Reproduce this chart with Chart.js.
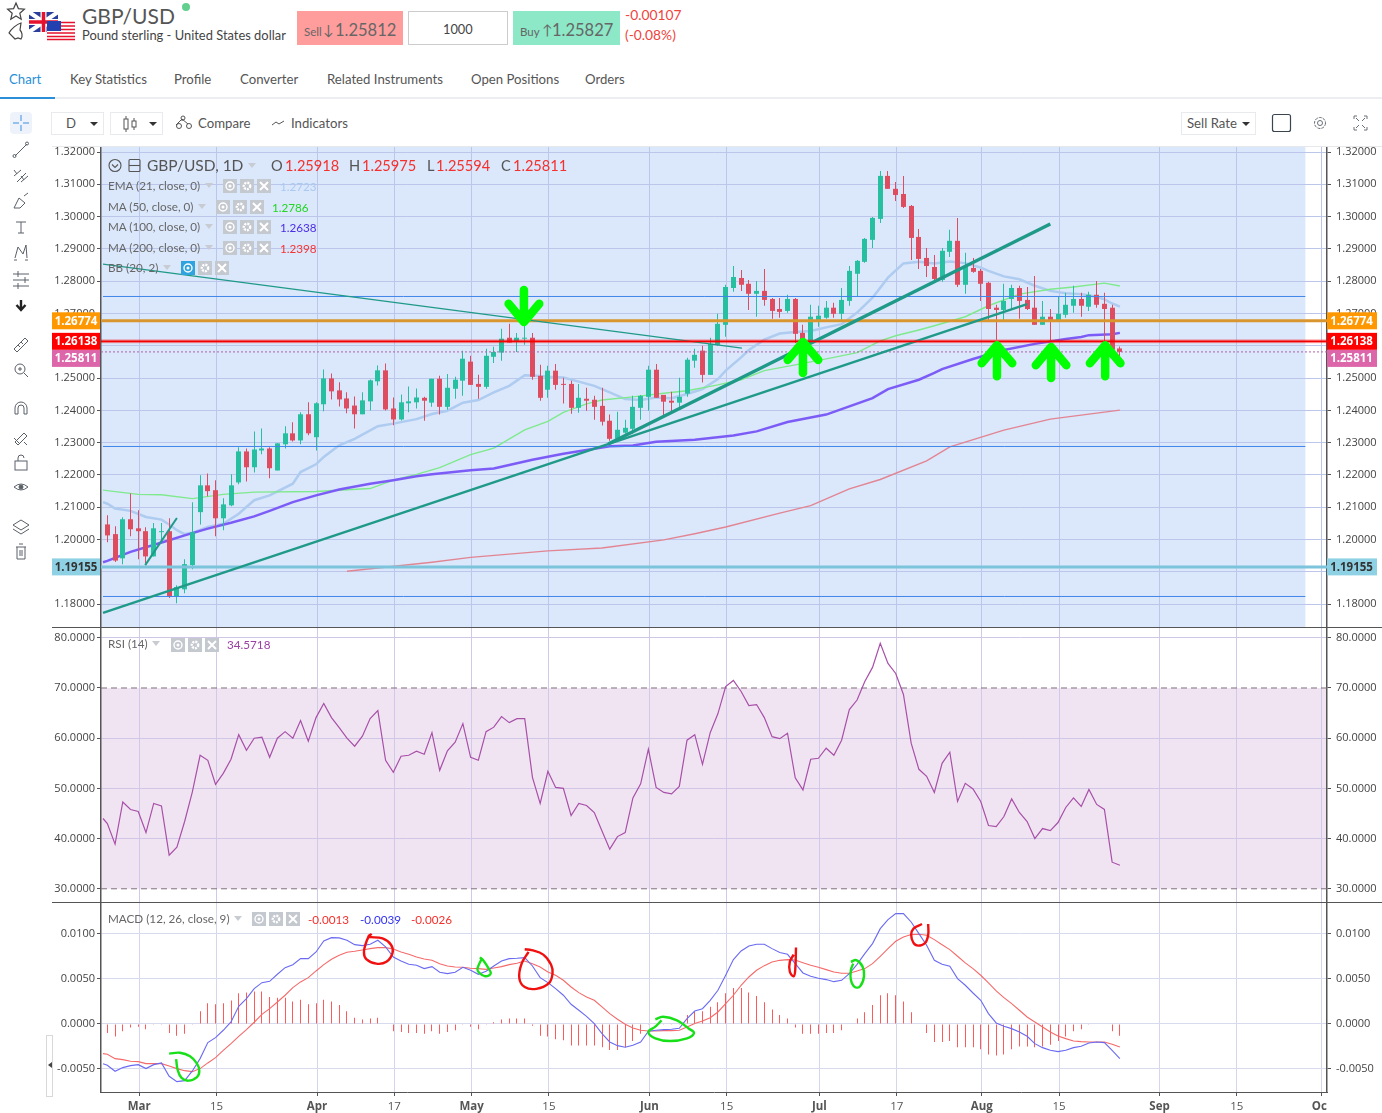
<!DOCTYPE html>
<html>
<head>
<meta charset="utf-8">
<title>GBP/USD</title>
<script src="https://cdn.jsdelivr.net/npm/chart.js@4"></script>
<style>
  html, body { margin: 0; padding: 0; background: #fff; overflow: hidden; }
  body { width: 1382px; height: 1113px; position: relative; font-family: Lato, sans-serif; color: #555; }
  .t { position: absolute; white-space: nowrap; transform: translateY(-50%); line-height: 1; }
  .box { position: absolute; box-sizing: border-box; }
  canvas { position: absolute; left: 52px; }
  svg { position: absolute; overflow: visible; }
  .ic { position: absolute; width: 14px; height: 14px; background: #c4c8cf; }
  .ic.on { background: #2ea3e0; }
</style>
</head>
<body>

<!-- header -->
<svg style="left:0;top:0" width="80" height="45">
  <path d="M16 3l2.4 5.6 6 .6-4.6 4 1.4 6-5.2-3.2-5.2 3.2 1.4-6-4.6-4 6-.6z" fill="none" stroke="#444" stroke-width="1.2"/>
  <path d="M21 23c-4 1-10 6-12 10l6 6 3-1 3 1c2-3 1-7-1-9z" fill="none" stroke="#444" stroke-width="1.2"/>
  <rect x="29" y="12" width="29" height="20" fill="#2a3f9b"/>
  <path d="M29 12l29 20M58 12L29 32" stroke="#fff" stroke-width="4"/>
  <path d="M43.5 12v20M29 22h29" stroke="#fff" stroke-width="6"/>
  <path d="M43.5 12v20M29 22h29" stroke="#e8112d" stroke-width="3.5"/>
  <rect x="47" y="21" width="28" height="19" fill="#fff"/>
  <path d="M47 22.5h28M47 26h28M47 29.5h28M47 33h28M47 36.5h28M47 39.5h28" stroke="#e8112d" stroke-width="1.7"/>
  <rect x="47" y="21" width="14" height="10" fill="#2340b0"/>
</svg>
<div class="t" style="left:82px;top:15px;font-size:21px;color:#555">GBP/USD</div>
<div class="box" style="left:182px;top:3px;width:8px;height:8px;border-radius:50%;background:#62cf8e"></div>
<div class="t" style="left:82px;top:35px;font-size:12.9px;color:#444">Pound sterling - United States dollar</div>

<div class="box" style="left:297px;top:11px;width:106px;height:34px;background:#ff9d9d"></div>
<div class="t" style="left:304px;top:32px;font-size:11.5px;color:#666">Sell</div>
<div class="t" style="left:323px;top:30px;font-size:14px;color:#666">↓</div>
<div class="t" style="left:335px;top:30px;font-size:16.5px;color:#666">1.25812</div>
<div class="box" style="left:408px;top:11px;width:100px;height:34px;border:1px solid #ccc"></div>
<div class="t" style="left:443px;top:29px;font-size:12.8px;color:#444">1000</div>
<div class="box" style="left:513px;top:11px;width:107px;height:34px;background:#8ce8c6"></div>
<div class="t" style="left:520px;top:32px;font-size:11.5px;color:#666">Buy</div>
<div class="t" style="left:542px;top:30px;font-size:14px;color:#666">↑</div>
<div class="t" style="left:552px;top:30px;font-size:16.5px;color:#666">1.25827</div>
<div class="t" style="left:625px;top:15px;font-size:13.8px;color:#f0433c">-0.00107</div>
<div class="t" style="left:625px;top:35px;font-size:13.8px;color:#f0433c">(-0.08%)</div>

<!-- tabs -->
<div class="box" style="left:0;top:97px;width:1382px;height:2px;background:#eceef1"></div>
<div class="box" style="left:0;top:97px;width:55px;height:2px;background:#2a8fd6"></div>
<div class="t" style="left:9px;top:80px;font-size:13.2px;color:#2a8fd6">Chart</div>
<div class="t" style="left:70px;top:80px;font-size:13.2px">Key Statistics</div>
<div class="t" style="left:174px;top:80px;font-size:13.2px">Profile</div>
<div class="t" style="left:240px;top:80px;font-size:13.2px">Converter</div>
<div class="t" style="left:327px;top:80px;font-size:13.2px">Related Instruments</div>
<div class="t" style="left:471px;top:80px;font-size:13.2px">Open Positions</div>
<div class="t" style="left:585px;top:80px;font-size:13.2px">Orders</div>

<!-- toolbar -->
<div class="box" style="left:10px;top:112px;width:22px;height:22px;border-radius:4px;background:#eef3fb"></div>
<svg style="left:0;top:100px" width="50" height="470" fill="none" stroke="#5a6068" stroke-width="1">
  <path d="M21 15v6M21 25v6M13 23h6M23 23h6" stroke="#3b8fe0"/>
  <path d="M15 56l12-12"/><circle cx="14.5" cy="56" r="1.5"/><circle cx="27" cy="43.5" r="1.5"/>
  <path d="M14 76l7-6M17 82l9-9M21 82l7-6M14 70l3 4M21 76l3 4"/>
  <path d="M14 108l5-10 6 5-5 5zM24 96l4-3"/>
  <path d="M16 122h10M21 122v11M18 133h6"/>
  <path d="M15 158l3-11 5 7 3-9 1 13M14 160h3M25 160h3"/>
  <path d="M13 174h16M13 180h16M13 186h16M18 171v6M25 177v6M18 183v6"/>
  <path d="M21 200v9M16.5 205l4.5 5 4.5-5" stroke="#222" stroke-width="2.4"/>
  <path d="M14 249l11-11 3 3-11 11zM18 245l2 2M21 242l2 2"/>
  <circle cx="20" cy="269" r="5"/><path d="M24 273l4 4M18 269h4M20 267v4"/>
  <path d="M15 314v-6a6 6 0 0 1 12 0v6h-3v-6a3 3 0 0 0-6 0v6z"/>
  <path d="M15 342l9-9 3 3-9 9zM14 338l5 5M24 342l3 3"/>
  <rect x="15" y="361" width="12" height="9"/><path d="M18 361v-3a3 3 0 0 1 6 0"/>
  <path d="M14 387q7-6 14 0q-7 6-14 0z"/><circle cx="21" cy="387" r="2" fill="#5a6068"/>
  <path d="M21 420l8 5-8 5-8-5zM13 429l8 5 8-5"/>
  <path d="M16 447h10M17 447v12h8v-12M19 444h4M20 450v6M22 450v6"/>
</svg>
<div class="box" style="left:51px;top:112px;width:53px;height:23px;border:1px solid #e8eaed"></div>
<div class="t" style="left:66px;top:124px;font-size:13.2px">D</div>
<svg style="left:0;top:0" width="170" height="140" fill="#333"><path d="M90 122h8l-4 4zM149 122h8l-4 4z"/></svg>
<div class="box" style="left:110px;top:112px;width:53px;height:23px;border:1px solid #e8eaed"></div>
<svg style="left:120px;top:112px" width="130" height="23" fill="none" stroke="#555" stroke-width="1">
  <path d="M6 4v3M6 17v3M14 6v3M14 15v3M56 13l6-6 6 5M62 7v2"/>
  <rect x="4" y="7" width="4" height="10"/><rect x="12" y="9" width="4" height="6"/>
  <circle cx="59" cy="14" r="2.5"/><circle cx="69" cy="14" r="2.5"/><circle cx="63" cy="6" r="2"/>
  <path d="M152 13l4-3 3 2 5-3"/>
</svg>
<div class="t" style="left:198px;top:124px;font-size:13.2px">Compare</div>
<div class="t" style="left:291px;top:124px;font-size:13.2px">Indicators</div>
<div class="box" style="left:1181px;top:112px;width:75px;height:23px;border:1px solid #e8eaed"></div>
<div class="t" style="left:1187px;top:124px;font-size:13.2px">Sell Rate</div>
<svg style="left:1180px;top:110px" width="200" height="30" fill="none" stroke="#6a7078" stroke-width="1">
  <path d="M62 12h8l-4 4z" fill="#333" stroke="none"/>
  <rect x="92.5" y="4.5" width="18" height="17" rx="2" stroke="#3a4550" stroke-width="1.2"/>
  <circle cx="140" cy="13" r="2.5"/><circle cx="140" cy="13" r="5.5" stroke-dasharray="3 1"/>
  <path d="M174 9v-3h3M184 6h3v3M174 17v3h3M187 17v3h-3M176 8l3 3M185 8l-3 3M176 18l3-3M185 18l-3-3"/>
</svg>
<div class="box" style="left:46px;top:1035px;width:7px;height:62px;border:1px solid #d8d8d8;background:#fff"></div>
<svg style="left:46px;top:1060px" width="8" height="10" fill="#444"><path d="M2 5l4-3v6z"/></svg>

<canvas id="priceChart" width="1330" height="481" style="top:147px"></canvas>
<canvas id="rsiChart" width="1330" height="275" style="top:628px"></canvas>
<canvas id="macdChart" width="1330" height="210" style="top:903px"></canvas>

<div id="overlay"></div>

<script>
// x axis
const tickBars = [4, 14, 27, 37, 47, 57, 70, 80, 92, 102, 113, 123, 136, 146, 157];
const tickLabels = ["Mar", "15", "Apr", "17", "May", "15", "Jun", "15", "Jul", "17", "Aug", "15", "Sep", "15", "Oct"];
const monthNames = ["Mar", "Apr", "May", "Jun", "Jul", "Aug", "Sep", "Oct"];

// candles, one value per daily bar
const opens = [1.2047,1.2017,1.1942,1.2063,1.2035,1.2026,1.1948,1.2023,1.2026,1.1825,1.1846,1.1921,1.2085,1.2168,1.2153,1.2066,1.2106,1.2177,1.2273,1.2224,1.2276,1.2282,1.2214,1.2295,1.2329,1.2307,1.2388,1.2317,1.2419,1.2499,1.2462,1.2437,1.2415,1.2388,1.2428,1.2490,1.2524,1.2406,1.2372,1.2422,1.2425,1.2439,1.2424,1.2498,1.2411,1.2467,1.2492,1.2551,1.2482,1.2473,1.2566,1.2579,1.2625,1.2612,1.2622,1.2625,1.2507,1.2464,1.2523,1.2482,1.2482,1.2408,1.2436,1.2433,1.2414,1.2368,1.2312,1.2331,1.2343,1.2408,1.2442,1.2526,1.2448,1.2430,1.2424,1.2452,1.2554,1.2585,1.2510,1.2603,1.2665,1.2779,1.2810,1.2792,1.2761,1.2770,1.2745,1.2714,1.2708,1.2745,1.2640,1.2609,1.2677,1.2687,1.2718,1.2699,1.2739,1.2823,1.2860,1.2928,1.2993,1.3126,1.3086,1.3070,1.3033,1.2937,1.2872,1.2844,1.2804,1.2891,1.2925,1.2789,1.2841,1.2832,1.2795,1.2718,1.2711,1.2745,1.2779,1.2742,1.2718,1.2665,1.2690,1.2677,1.2696,1.2724,1.2745,1.2721,1.2758,1.2730,1.2718,1.25918];
const highs = [1.2075,1.2041,1.2069,1.2143,1.2091,1.2038,1.2051,1.2051,1.2066,1.1859,1.1939,1.2116,1.2199,1.2205,1.2184,1.2128,1.2202,1.2286,1.2282,1.2335,1.2344,1.2286,1.2298,1.2351,1.2363,1.2394,1.2425,1.2425,1.2527,1.2514,1.2487,1.2456,1.2443,1.2456,1.2496,1.2539,1.2545,1.2440,1.2449,1.2474,1.2468,1.2442,1.2498,1.2507,1.2513,1.2504,1.2585,1.2569,1.2510,1.2591,1.2597,1.2653,1.2668,1.2640,1.2677,1.2640,1.2541,1.2538,1.2544,1.2501,1.2492,1.2482,1.2470,1.2445,1.2470,1.2387,1.2396,1.2371,1.2445,1.2448,1.2538,1.2544,1.2448,1.2458,1.2501,1.2563,1.2591,1.2600,1.2625,1.2699,1.2789,1.2847,1.2835,1.2804,1.2801,1.2838,1.2748,1.2748,1.2758,1.2748,1.2665,1.2727,1.2724,1.2739,1.2733,1.2779,1.2847,1.2866,1.2934,1.2999,1.3141,1.3141,1.3107,1.3126,1.3036,1.2962,1.2903,1.2881,1.2903,1.2959,1.2996,1.2888,1.2872,1.2838,1.2798,1.2727,1.2792,1.2789,1.2786,1.2782,1.2816,1.2739,1.2714,1.2752,1.2764,1.2786,1.2764,1.2767,1.2801,1.2764,1.2727,1.25975];
const lows = [1.1992,1.1931,1.1924,1.2010,1.1939,1.1927,1.1948,1.1992,1.1819,1.1803,1.1834,1.1908,1.2047,1.2134,1.2010,1.2029,1.2103,1.2171,1.2180,1.2208,1.2264,1.2190,1.2214,1.2282,1.2304,1.2295,1.2323,1.2276,1.2397,1.2434,1.2412,1.2391,1.2344,1.2388,1.2400,1.2477,1.2400,1.2354,1.2369,1.2394,1.2406,1.2368,1.2411,1.2387,1.2402,1.2436,1.2445,1.2479,1.2436,1.2467,1.2547,1.2554,1.2610,1.2581,1.2603,1.2495,1.2430,1.2439,1.2464,1.2421,1.2390,1.2393,1.2399,1.2371,1.2353,1.2306,1.2309,1.2328,1.2328,1.2371,1.2399,1.2439,1.2377,1.2393,1.2402,1.2442,1.2532,1.2486,1.2510,1.2600,1.2628,1.2767,1.2770,1.2711,1.2690,1.2724,1.2684,1.2687,1.2702,1.2609,1.2585,1.2600,1.2659,1.2684,1.2687,1.2680,1.2724,1.2752,1.2857,1.2903,1.2980,1.3086,1.3048,1.3027,1.2866,1.2838,1.2813,1.2798,1.2798,1.2875,1.2782,1.2761,1.2826,1.2739,1.2680,1.2619,1.2680,1.2714,1.2684,1.2711,1.2665,1.2665,1.2614,1.2677,1.2687,1.2702,1.2690,1.2708,1.2718,1.2615,1.2585,1.25594];
const closes = [1.2013,1.1935,1.2063,1.2032,1.2026,1.1948,1.2035,1.2026,1.1825,1.1853,1.1924,1.2023,1.2168,1.2150,1.2066,1.2109,1.2168,1.2273,1.2224,1.2279,1.2282,1.2221,1.2298,1.2329,1.2307,1.2388,1.2329,1.2422,1.2499,1.2459,1.2434,1.2406,1.2388,1.2431,1.2493,1.2524,1.2403,1.2372,1.2425,1.2428,1.2440,1.2430,1.2498,1.2411,1.2470,1.2495,1.2560,1.2479,1.2473,1.2569,1.2581,1.2622,1.2610,1.2625,1.2625,1.2504,1.2439,1.2523,1.2479,1.2479,1.2408,1.2439,1.2430,1.2411,1.2365,1.2312,1.2340,1.2346,1.2411,1.2445,1.2526,1.2439,1.2427,1.2424,1.2442,1.2557,1.2572,1.2510,1.2606,1.2668,1.2782,1.2813,1.2789,1.2761,1.2770,1.2742,1.2708,1.2705,1.2745,1.2637,1.2609,1.2690,1.2693,1.2718,1.2699,1.2742,1.2832,1.2863,1.2931,1.2996,1.3126,1.3086,1.3067,1.3030,1.2934,1.2869,1.2847,1.2807,1.2894,1.2925,1.2789,1.2847,1.2829,1.2792,1.2714,1.2711,1.2739,1.2779,1.2739,1.2714,1.2665,1.2690,1.2677,1.2699,1.2727,1.2745,1.2724,1.2758,1.2727,1.2714,1.2588,1.25811];

// moving averages, read at the bars where the line bends
const emaBars = [-0.56,0,1,3,5,7,8,9,10,11,13,15,17,19,21,24,25,27,28,30,32,35,37,40,42,44,46,48,50,52,54,55,57,59,61,63,65,67,69,71,73,75,77,79,80,82,83,85,87,89,91,93,95,97,99,101,103,105,107,109,111,113,114,116,118,120,122,124,126,128,129,130,131];
const emaValues = [1.2116,1.2111,1.2096,1.2089,1.2070,1.2062,1.2047,1.2029,1.2017,1.2021,1.2039,1.2049,1.2080,1.2122,1.2137,1.2173,1.2209,1.2233,1.2256,1.2292,1.2312,1.2351,1.2359,1.2373,1.2389,1.2399,1.2424,1.2432,1.2456,1.2476,1.2509,1.2508,1.2504,1.2502,1.2489,1.2476,1.2456,1.2435,1.2432,1.2440,1.2438,1.2451,1.2466,1.2497,1.2523,1.2564,1.2587,1.2619,1.2638,1.2643,1.2646,1.2657,1.2667,1.2703,1.2749,1.2811,1.2855,1.2860,1.2855,1.2861,1.2856,1.2842,1.2832,1.2815,1.2806,1.2786,1.2770,1.2763,1.2760,1.2752,1.2744,1.2731,1.2721];
const ma50Bars = [-0.56,4,7,11,15,19,27,34,37,40,42,43,47,50,54,57,59,62,64,68,72,75,79,82,85,89,94,97,100,102,105,107,111,114,118,122,125,129,131];
const ma50Values = [1.2153,1.2140,1.2139,1.2127,1.2140,1.2147,1.2149,1.2158,1.2184,1.2202,1.2216,1.2223,1.2263,1.2283,1.2340,1.2366,1.2394,1.2420,1.2432,1.2442,1.2453,1.2461,1.2479,1.2495,1.2523,1.2541,1.2564,1.2579,1.2615,1.2631,1.2649,1.2662,1.2690,1.2724,1.2760,1.2775,1.2782,1.2794,1.2785];
const ma100Bars = [-0.56,0,3,8,10,13,16,19,21,24,27,30,34,37,40,42,47,50,55,59,65,68,71,76,81,84,88,93,95,99,101,105,107,108,112,116,120,124,126,127,130,131];
const ma100Values = [1.1930,1.1934,1.1962,1.1998,1.2013,1.2034,1.2052,1.2072,1.2089,1.2116,1.2137,1.2155,1.2173,1.2184,1.2196,1.2202,1.2215,1.2220,1.2247,1.2266,1.2289,1.2291,1.2303,1.2309,1.2322,1.2335,1.2364,1.2387,1.2404,1.2438,1.2466,1.2495,1.2516,1.2528,1.2559,1.2587,1.2606,1.2621,1.2627,1.2633,1.2636,1.2640];
const ma200Bars = [31,42,47,57,64,72,76,80,87,91,96,100,106,109,116,122,131];
const ma200Values = [1.1902,1.1930,1.1945,1.1965,1.1974,1.1999,1.2018,1.2039,1.2082,1.2105,1.2157,1.2186,1.2244,1.2287,1.2339,1.2373,1.2401];

// drawn levels
const bluePrices = [1.27527, 1.22883, 1.18239];
const tagPrices = [1.26774, 1.26138, 1.25811, 1.19155];
const tagColors = ["#ff9800", "#ff0000", "#dd66aa", "#8ed1e4"];
const tagText = ["#fff", "#fff", "#fff", "#333"];
const tagShift = [0, 0, 6.5, 0];

// drawn trend lines as [bar, price] ends
const trendBars = [[-0.56, 119], [64.8, 122], [4.9, 9], [-0.56, 82.1]];
const trendPrices = [[1.1773, 1.2729], [1.2296, 1.2977], [1.1921, 1.2067], [1.2853, 1.2593]];
const trendWidths = [2.4, 3.4, 2, 1.3];

// hand drawn arrows
const upArrowBars = [90, 115.1, 122.1, 129.1];
const upArrowTips = [1.2612, 1.2602, 1.2596, 1.2602];
const downArrowBars = [53.9];
const downArrowTips = [1.2674];

// the indicator lines start a little left of the first candle
const leadBar = -0.56;
const rsiLead = 44.0;
const macdLead = -.00441;
const signalLead = -.0033;

// RSI
const rsiValues = [43.0,38.9,47.3,45.8,45.4,41.2,47.0,46.5,36.7,38.3,43.4,49.3,56.6,55.6,50.8,53.0,55.8,60.7,57.6,60.0,60.2,56.2,60.0,61.3,60.0,63.5,59.4,64.1,66.9,64.1,62.1,60.0,58.4,60.4,63.9,65.5,55.6,53.2,56.4,56.6,57.4,56.8,61.1,53.6,57.5,59.2,62.9,56.2,55.6,61.3,62.2,64.3,63.1,63.9,63.9,52.2,47.0,53.4,50.2,50.0,44.6,47.0,46.6,45.2,41.5,37.9,40.4,41.2,48.1,50.9,57.8,50.2,49.2,48.9,50.4,59.6,60.7,54.8,61.1,64.9,70.3,71.5,69.3,66.5,66.7,64.1,60.3,59.9,61.0,52.1,49.7,55.8,56.0,58.0,56.6,59.6,65.7,67.6,71.3,74.1,78.9,74.9,72.9,68.7,59.0,53.8,52.4,49.2,55.0,57.2,47.4,51.0,49.9,47.4,42.6,42.4,44.4,47.9,45.2,43.4,40.0,42.0,41.6,43.2,46.2,48.1,46.4,49.8,46.8,45.8,35.3,34.7];

// MACD
const macdValues = [-.00459,-.00526,-.00485,-.00463,-.00452,-.00496,-.00452,-.00433,-.00581,-.00641,-.0063,-.00522,-.00385,-.00207,-.00152,-.0007,.00022,.00196,.00281,.00393,.00459,.00474,.00552,.00626,.00659,.00726,.00726,.008,.00922,.00959,.00956,.0093,.00881,.0087,.00885,.0093,.00856,.00744,.007,.00663,.00652,.00615,.00637,.00574,.00559,.00574,.0063,.00596,.00552,.00585,.00644,.007,.00726,.0073,.00737,.00644,.00515,.00459,.00393,.00319,.00219,.00152,.00085,.00004,-.00107,-.002,-.00241,-.00259,-.00237,-.002,-.00081,-.0007,-.00063,-.00059,-.00048,.00059,.00144,.0017,.00263,.00374,.00541,.00715,.00811,.00867,.00885,.00885,.00837,.00793,.00774,.0067,.00567,.0053,.00507,.00493,.0047,.00485,.00559,.00663,.00781,.00893,.01059,.01159,.01226,.01226,.01133,.01004,.00874,.00707,.00663,.00641,.00504,.0043,.00344,.00263,.00115,.00011,-.00026,-.00052,-.00089,-.00137,-.00219,-.00263,-.00293,-.00307,-.00293,-.00263,-.00248,-.00211,-.002,-.00207,-.00293,-.00385];
const signalValues = [-.00337,-.00385,-.00396,-.00415,-.00419,-.00441,-.00441,-.00441,-.00467,-.00496,-.00519,-.0053,-.00496,-.00433,-.00374,-.00293,-.00219,-.00137,-.00063,.00019,.00107,.0017,.00244,.00319,.00404,.00467,.00515,.00589,.00659,.00719,.00763,.00796,.00807,.00822,.00837,.00848,.00848,.00833,.008,.00774,.00744,.00722,.00707,.0067,.00644,.00633,.0063,.00619,.00615,.00607,.00622,.00637,.00659,.00674,.007,.0067,.00633,.00578,.00541,.00485,.00411,.00348,.003,.00263,.00189,.00115,.00052,-.00004,-.00044,-.0007,-.00078,-.00078,-.00074,-.00074,-.0007,-.00033,.00004,.00033,.0007,.00133,.00226,.00319,.0043,.00522,.00596,.00648,.00689,.00707,.00715,.00711,.00681,.00652,.0063,.00604,.00578,.00563,.00563,.00589,.00615,.0067,.00752,.00837,.00919,.00967,.00993,.00996,.00985,.00937,.00881,.00826,.00752,.00678,.00615,.00541,.00456,.00367,.00293,.00226,.00152,.00078,.00022,-.00033,-.00089,-.00133,-.00163,-.00189,-.00196,-.002,-.002,-.002,-.00226,-.00256];
const histValues = [-.0010,-.0014,-.0008,-.0004,-.0003,-.0006,-.0001,-.0001,-.0010,-.0013,-.0011,-.0001,.0014,.0023,.0022,.0023,.0026,.0034,.0035,.0036,.0036,.0030,.0029,.0029,.0025,.0027,.0022,.0023,.0027,.0025,.0021,.0014,.0007,.0005,.0006,.0007,0,-.0008,-.0009,-.0010,-.0010,-.0011,-.0008,-.0011,-.0009,-.0007,-.0001,-.0003,-.0006,-.0001,.0002,.0005,.0006,.0006,.0006,-.0002,-.0013,-.0014,-.0017,-.0018,-.0024,-.0024,-.0024,-.0024,-.0026,-.0029,-.0029,-.0026,-.0019,-.0011,-.0001,-.0001,-.0001,-.0001,-.0001,.0010,.0014,.0014,.0019,.0024,.0034,.0040,.0040,.0035,.0031,.0024,.0016,.0010,.0006,-.0004,-.0011,-.0011,-.0011,-.0010,-.0010,-.0007,0,.0006,.0013,.0021,.0032,.0034,.0032,.0025,.0013,0,-.0010,-.0020,-.0020,-.0019,-.0026,-.0026,-.0026,-.0028,-.0034,-.0035,-.0034,-.0028,-.0025,-.0025,-.0026,-.0025,-.0023,-.0019,-.0014,-.0008,-.0006,-.0001,0,0,-.0008,-.0013];

// hand drawn rings on the MACD pane, [bar, value]
const greenRings = [
  [[8,-.0033],[9.4,-.0032],[10.7,-.0036],[11.6,-.0044],[11.9,-.0052],[11.6,-.0059],[10.5,-.0063],[9.6,-.0060],[9.1,-.0051],[8.9,-.0039]],
  [[48.2,.0074],[48.6,.0071],[49.3,.0062],[49.6,.0056],[48.9,.0053],[48,.0058],[47.9,.0062],[48.4,.0072]],
  [[70.9,.0005],[71.9,.0008],[73.7,.0004],[75.2,-.0005],[75.9,-.0010],[75,-.0016],[72.8,-.0019],[70.9,-.0016],[70,-.0009],[70.9,-.0003],[71.7,.0004]],
  [[96.2,.0069],[96.9,.0071],[97.7,.0064],[97.9,.0053],[97.4,.0042],[96.7,.0041],[96.2,.0049],[96.2,.0060],[96.5,.0067]]
];
const redRings = [
  [[34.2,.0100],[33.8,.0097],[35.6,.0095],[36.7,.0088],[36.9,.0079],[36.1,.0069],[34.8,.0067],[33.5,.0072],[33.2,.0080],[33.5,.0091],[33.8,.0097]],
  [[54,.0083],[54.9,.0082],[56.4,.0077],[57.4,.0066],[57.6,.0056],[57.1,.0045],[55.5,.0039],[54,.0041],[53.3,.0051],[53.6,.0067],[54.5,.0080]],
  [[89.1,.0085],[89,.0060],[88.8,.0053],[88.3,.0058],[88.3,.0069],[88.8,.0077]],
  [[105.4,.0111],[104.3,.0106],[104,.0099],[104.3,.0090],[104.9,.0087],[105.8,.0090],[106.2,.0099],[106.2,.0111]]
];

const GREEN = "#26bf9f";
const RED = "#dd4d5f";
const xMin = -0.82;
const xMax = 157.8;
const shadedEnd = 155;
const gridShift = 0.13;
const axisColor = "#555";

Chart.defaults.font.family = "'Open Sans', sans-serif";
Chart.defaults.animation = false;

function pairs(xs, ys) {
  return xs.map((x, i) => ({ x, y: ys[i] }));
}

function lineSet(data, color, width, order, extra) {
  return Object.assign({
    type: "line", data, borderColor: color, borderWidth: width,
    pointRadius: 0, order, parsing: { xAxisKey: "x", yAxisKey: "y" }
  }, extra || {});
}

function levelSet(price, from, to, color, width, order, extra) {
  return lineSet([{ x: from, y: price }, { x: to, y: price }], color, width, order, extra);
}

function arrowSet(bar, tip, dir) {
  const arm = dir > 0 ? -0.0056 : 0.0056;
  const tail = dir > 0 ? -0.0096 : 0.0099;
  const data = [
    { x: bar, y: tip + tail },
    { x: bar, y: tip },
    { x: bar - 1.98, y: tip + arm },
    { x: bar, y: tip },
    { x: bar + 1.98, y: tip + arm }
  ];
  return lineSet(data, "#00ff00", 8.5, 0, { borderCapStyle: "round", borderJoinStyle: "round" });
}

function noPadding(scale) {
  scale.paddingTop = 0;
  scale.paddingBottom = 0;
  scale.paddingLeft = 0;
  scale.paddingRight = 0;
}

function xAxis(showLabels, gridColor) {
  return {
    type: "linear", min: xMin, max: xMax, offset: false,
    afterBuildTicks(scale) {
      scale.ticks = tickBars.map(b => ({ value: b + gridShift }));
    },
    afterFit(scale) {
      scale.height = showLabels ? 21 : 0;
      noPadding(scale);
    },
    grid: { offset: false, color: gridColor, lineWidth: 1, drawTicks: showLabels, tickLength: 4, tickColor: axisColor },
    border: { display: showLabels, color: axisColor },
    ticks: {
      display: showLabels, autoSkip: false, maxRotation: 0, color: "#555", padding: 4,
      callback: (v, i) => tickLabels[i],
      font: c => ({ size: 11.5, weight: monthNames.includes(tickLabels[c.index]) ? "bold" : "normal" })
    }
  };
}

function yAxes(min, max, step, digits, gridColor) {
  const ticks = {
    stepSize: step, includeBounds: false, color: "#444", autoSkip: false,
    font: { size: 11 }, callback: v => v.toFixed(digits)
  };
  return {
    y: {
      position: "left", min, max, ticks: Object.assign({ padding: 2 }, ticks),
      afterFit(scale) { scale.width = 49; noPadding(scale); },
      grid: { color: gridColor, tickColor: axisColor, tickLength: 4 },
      border: { color: axisColor, width: 1.5 }
    },
    y2: {
      position: "right", min, max, ticks: Object.assign({ padding: 5 }, ticks),
      afterFit(scale) { scale.width = 55; noPadding(scale); },
      grid: { drawOnChartArea: false, tickColor: axisColor, tickLength: 4 },
      border: { color: axisColor, width: 1.5 }
    }
  };
}

// keeps thin bars on whole pixels so wicks and histogram stay crisp
const snapBars = {
  id: "snapBars",
  afterDatasetsUpdate(chart) {
    chart.getSortedVisibleDatasetMetas().forEach(meta => {
      if (meta.type !== "bar") return;
      meta.data.forEach(el => { el.x = Math.floor(el.x) + 0.5; });
    });
  }
};

// shaded backdrop behind the price pane
const priceBackdrop = {
  id: "priceBackdrop",
  beforeDraw(chart) {
    const { ctx, chartArea, scales } = chart;
    ctx.save();
    ctx.fillStyle = "#dbe7fb";
    const right = scales.x.getPixelForValue(shadedEnd);
    ctx.fillRect(chartArea.left, chartArea.top, right - chartArea.left, chartArea.bottom - chartArea.top);
    ctx.restore();
  }
};

// price tags sitting on both axes
const priceTags = {
  id: "priceTags",
  afterDraw(chart) {
    const { ctx, chartArea, scales, width } = chart;
    ctx.save();
    ctx.font = "bold 11.5px 'Open Sans', sans-serif";
    ctx.textAlign = "center";
    ctx.textBaseline = "middle";
    tagPrices.forEach((price, i) => {
      const y = scales.y.getPixelForValue(price) + tagShift[i];
      const h = 17;
      const text = price.toFixed(5);
      ctx.fillStyle = tagColors[i];
      ctx.fillRect(0, y - h / 2, chartArea.left - 1, h);
      ctx.fillRect(chartArea.right, y - h / 2, width - chartArea.right - 5, h);
      ctx.fillStyle = tagText[i];
      ctx.fillText(text, (chartArea.left - 1) / 2, y + 0.5);
      ctx.fillText(text, chartArea.right + 24.5, y + 0.5);
    });
    ctx.restore();
  }
};

// RSI channel between 30 and 70
const rsiBand = {
  id: "rsiBand",
  beforeDraw(chart) {
    const { ctx, chartArea, scales } = chart;
    const top = scales.y.getPixelForValue(70);
    const bottom = scales.y.getPixelForValue(30);
    ctx.save();
    ctx.fillStyle = "#f0e4f2";
    ctx.fillRect(chartArea.left, top, chartArea.right - chartArea.left, bottom - top);
    ctx.restore();
  }
};

// hides the part of the last date label that runs under the right axis
const dateMask = {
  id: "dateMask",
  afterDraw(chart) {
    const { ctx, chartArea, width, height } = chart;
    ctx.save();
    ctx.fillStyle = "#fff";
    ctx.fillRect(chartArea.right, chartArea.bottom + 1, width - chartArea.right, height - chartArea.bottom);
    ctx.restore();
  }
};

const allBars = opens.map((_, i) => i);
const candleColors = opens.map((o, i) => (closes[i] >= o ? GREEN : RED));

const priceDatasets = [
  lineSet(pairs(emaBars, emaValues), "#aecbf0", 2.5, 9),
  lineSet(pairs(ma50Bars, ma50Values), "#7eea8c", 1.4, 8),
  lineSet(pairs(ma200Bars, ma200Values), "#e28593", 1.4, 8),
  lineSet(pairs(ma100Bars, ma100Values), "#7c5cf6", 2.5, 7),
  {
    type: "bar", grouped: false, order: 6, barThickness: 1, inflateAmount: 0, backgroundColor: candleColors,
    data: allBars.map(i => ({ x: i, y: [lows[i], highs[i]] }))
  },
  {
    type: "bar", grouped: false, order: 5, barThickness: 5, inflateAmount: 0, minBarLength: 1, backgroundColor: candleColors,
    data: allBars.map(i => ({ x: i, y: [opens[i], closes[i]] }))
  },
  ...bluePrices.map(p => levelSet(p, -0.56, shadedEnd, "#4085ea", 1, 4)),
  levelSet(tagPrices[3], xMin, xMax, "#7cc4dc", 3, 4),
  levelSet(tagPrices[2], xMin, xMax, "#b060a8", 1, 4, { borderDash: [2, 2] }),
  levelSet(tagPrices[0], xMin, xMax, "#d9962f", 3, 3),
  levelSet(tagPrices[1], xMin, xMax, "rgba(255,0,0,0.3)", 4, 3),
  levelSet(tagPrices[1], xMin, xMax, "#f40000", 1.6, 2),
  ...trendBars.map((b, i) => lineSet(pairs(b, trendPrices[i]), "#1f9a88", trendWidths[i], 2)),
  ...upArrowBars.map((b, i) => arrowSet(b, upArrowTips[i], 1)),
  ...downArrowBars.map((b, i) => arrowSet(b, downArrowTips[i], -1))
];

new Chart(document.getElementById("priceChart"), {
  type: "bar",
  data: { datasets: priceDatasets },
  options: {
    responsive: false, devicePixelRatio: 1, layout: { padding: 0 },
    plugins: { legend: { display: false }, tooltip: { enabled: false } },
    scales: Object.assign({ x: xAxis(false, "#bcc6ea") }, yAxes(1.17263, 1.32155, 0.01, 5, "#bcc6ea"))
  },
  plugins: [snapBars, priceBackdrop, priceTags]
});

const rsiAxes = yAxes(27.17, 81.95, 10, 4, c => ([70, 30].includes(c.tick.value) ? "transparent" : "#d0c6e6"));
new Chart(document.getElementById("rsiChart"), {
  type: "line",
  data: {
    datasets: [
      levelSet(70, xMin, xMax, "#80707e", 1, 2, { borderDash: [6, 4] }),
      levelSet(30, xMin, xMax, "#80707e", 1, 2, { borderDash: [6, 4] }),
      lineSet([{ x: leadBar, y: rsiLead }, ...pairs(allBars, rsiValues)], "#a850a8", 1.2, 1)
    ]
  },
  options: {
    responsive: false, devicePixelRatio: 1, layout: { padding: 0 },
    plugins: { legend: { display: false }, tooltip: { enabled: false } },
    scales: Object.assign({ x: xAxis(false, "#d0cae8") }, rsiAxes)
  },
  plugins: [rsiBand]
});

const macdDatasets = [
  {
    type: "bar", grouped: false, order: 3, barThickness: 1, inflateAmount: 0, backgroundColor: "#ff5a5a",
    data: pairs(allBars, histValues)
  },
  lineSet([{ x: leadBar, y: signalLead }, ...pairs(allBars, signalValues)], "#f56a6a", 1.1, 2),
  lineSet([{ x: leadBar, y: macdLead }, ...pairs(allBars, macdValues)], "#6a6af2", 1.1, 1),
  ...greenRings.map(r => lineSet(r.map(p => ({ x: p[0], y: p[1] })), "#18e018", 2.4, 0, { tension: 0.4 })),
  ...redRings.map(r => lineSet(r.map(p => ({ x: p[0], y: p[1] })), "#f01010", 2.4, 0, { tension: 0.4 }))
];

new Chart(document.getElementById("macdChart"), {
  type: "bar",
  data: { datasets: macdDatasets },
  options: {
    responsive: false, devicePixelRatio: 1, layout: { padding: 0 },
    plugins: { legend: { display: false }, tooltip: { enabled: false } },
    scales: Object.assign({ x: xAxis(true, "#d4d6ec") }, yAxes(-0.00756, 0.01344, 0.005, 4, "#d8daee"))
  },
  plugins: [snapBars, dateMask]
});

// pane separators and the text that floats over the panes
const overlay = document.getElementById("overlay");

function addText(text, x, y, size, color) {
  const el = document.createElement("div");
  el.className = "t";
  el.textContent = text;
  el.style.cssText = `left:${x}px;top:${y}px;font-size:${size}px;color:${color}`;
  overlay.appendChild(el);
}

function addCaret(x, y) {
  const el = document.createElement("div");
  el.className = "box";
  el.style.cssText = `left:${x}px;top:${y - 2}px;width:0;height:0;border:4.5px solid transparent;border-top:5px solid #c8ccd2;border-bottom:0`;
  overlay.appendChild(el);
}

function addIcons(x, y, active) {
  [0, 17, 34].forEach((dx, i) => {
    const el = document.createElement("div");
    el.className = "ic" + (active && i === 0 ? " on" : "");
    el.style.left = x + dx + "px";
    el.style.top = y - 7 + "px";
    const marks = [
      '<circle cx="7" cy="7" r="4" fill="none" stroke="#fff" stroke-width="1.4"/><circle cx="7" cy="7" r="1.5" fill="#fff"/>',
      '<circle cx="7" cy="7" r="3.2" fill="none" stroke="#fff" stroke-width="2.4" stroke-dasharray="2 1"/>',
      '<path d="M3 3l8 8M11 3l-8 8" stroke="#fff" stroke-width="2"/>'
    ];
    el.innerHTML = `<svg width="14" height="14" style="left:0;top:0">${marks[i]}</svg>`;
    overlay.appendChild(el);
  });
}

[[146, "#e6e8ec"], [628, "#555"], [903, "#555"]].forEach(([y, color]) => {
  const el = document.createElement("div");
  el.className = "box";
  el.style.cssText = `left:52px;top:${y - (y > 146 ? 1 : 0)}px;width:1330px;height:1px;background:${color}`;
  overlay.appendChild(el);
});

const chevron = document.createElement("div");
chevron.innerHTML = '<svg style="left:108px;top:158px" width="34" height="16" fill="none" stroke="#555" stroke-width="1.1"><circle cx="7" cy="7.5" r="6"/><path d="M4 6.5l3 3 3-3"/><rect x="21" y="1.5" width="11" height="12" rx="1"/><path d="M21 7.5h11"/></svg>';
overlay.appendChild(chevron);

addText("GBP/USD, 1D", 147, 166, 15.5, "#555");
addCaret(248, 165);
addText("O", 271, 166, 14.6, "#555");
addText("1.25918", 285, 166, 14.6, "#f5302c");
addText("H", 349, 166, 14.6, "#555");
addText("1.25975", 362, 166, 14.6, "#f5302c");
addText("L", 427, 166, 14.6, "#555");
addText("1.25594", 436, 166, 14.6, "#f5302c");
addText("C", 501, 166, 14.6, "#555");
addText("1.25811", 513, 166, 14.6, "#f5302c");

const legendSize = 11.7;
addText("EMA (21, close, 0)", 108, 186, legendSize, "#666");
addCaret(205, 185);
addIcons(223, 186);
addText("1.2723", 280, 187, legendSize, "#a9c9f0");
addText("MA (50, close, 0)", 108, 207, legendSize, "#666");
addCaret(198, 206);
addIcons(216, 207);
addText("1.2786", 272, 208, legendSize, "#22d622");
addText("MA (100, close, 0)", 108, 227, legendSize, "#666");
addCaret(205, 226);
addIcons(223, 227);
addText("1.2638", 280, 228, legendSize, "#4a2ee6");
addText("MA (200, close, 0)", 108, 248, legendSize, "#666");
addCaret(205, 247);
addIcons(223, 248);
addText("1.2398", 280, 249, legendSize, "#f63333");
addText("BB (20, 2)", 108, 268, legendSize, "#666");
addCaret(163, 267);
addIcons(181, 268, true);

addText("RSI (14)", 108, 644, legendSize, "#666");
addCaret(152, 643);
addIcons(171, 645);
addText("34.5718", 227, 645, legendSize, "#9b3fa3");

addText("MACD (12, 26, close, 9)", 108, 919, legendSize, "#666");
addCaret(234, 918);
addIcons(252, 919);
addText("-0.0013", 308, 920, legendSize, "#f5302c");
addText("-0.0039", 360, 920, legendSize, "#3333f0");
addText("-0.0026", 411, 920, legendSize, "#f5302c");
</script>
</body>
</html>
